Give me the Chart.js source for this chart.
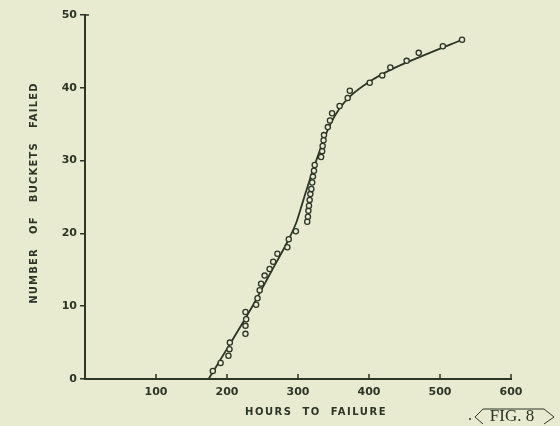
<!DOCTYPE html>
<html>
<head>
<meta charset="utf-8">
<script src="https://cdn.jsdelivr.net/npm/chart.js@4/dist/chart.umd.min.js"></script>
<style>
  html, body { margin: 0; padding: 0; background: #e8ebd0; }
  #wrap { width: 560px; height: 426px; }
</style>
</head>
<body>
<div id="wrap"><canvas id="failChart" width="560" height="426"></canvas></div>
<script>
// observed failures (hours, cumulative count)
const hours = [180, 191, 202, 203.5, 204, 226, 226, 227, 226, 241, 243, 246, 248, 253, 260, 265, 271, 285, 287, 297,
  313, 314, 314.6, 315.5, 316.4, 317.4, 318.8, 320, 321, 322.5, 323.5, 332.5, 334, 334.7, 336, 336.6,
  342, 345, 348, 358.6, 370, 373, 401, 418.7, 430, 453, 470, 504, 531];
const failed = [1.1, 2.2, 3.2, 4.1, 5.0, 6.2, 7.3, 8.2, 9.2, 10.2, 11.1, 12.2, 13.1, 14.2, 15.1, 16.1, 17.2, 18.1, 19.2, 20.3,
  21.6, 22.3, 23.1, 23.8, 24.6, 25.4, 26.1, 27.0, 27.8, 28.6, 29.4, 30.5, 31.3, 32.0, 32.8, 33.5,
  34.6, 35.5, 36.5, 37.5, 38.6, 39.6, 40.7, 41.7, 42.8, 43.7, 44.8, 45.7, 46.6];

// hand drawn fitted curve
const fitHours = [174, 206, 237, 262, 288, 298, 307, 319, 335, 345, 358, 373, 400, 433, 483, 531];
const fitFailed = [0, 5.1, 10.2, 14.7, 19.4, 21.6, 24.4, 28.1, 32.5, 34.9, 37.1, 38.8, 40.8, 42.6, 44.7, 46.6];

const xTicks = [0, 100, 200, 300, 400, 500, 600];
const yTicks = [0, 10, 20, 30, 40, 50];

const ink = '#2c3527';
const paper = '#e8ebd0';

const toPts = (xs, ys) => xs.map((x, i) => ({ x: x, y: ys[i] }));

// extra drawing: inward x ticks, axis titles, figure tag
const decor = {
  id: 'decor',
  afterDraw(chart) {
    const ctx = chart.ctx;
    const xs = chart.scales.x, ys = chart.scales.y;
    ctx.save();
    ctx.strokeStyle = ink;
    ctx.fillStyle = ink;
    ctx.lineWidth = 1.5;
    xTicks.slice(1).forEach(v => {
      const px = xs.getPixelForValue(v);
      ctx.beginPath();
      ctx.moveTo(px, ys.bottom);
      ctx.lineTo(px, ys.bottom - 5);
      ctx.stroke();
    });
    // small cap at top of y axis
    ctx.beginPath();
    ctx.moveTo(xs.left, ys.top);
    ctx.lineTo(xs.left + 4, ys.top);
    ctx.stroke();

    ctx.font = 'bold 10px "DejaVu Sans"';
    ctx.letterSpacing = '1.5px';
    ctx.textAlign = 'center';
    ctx.textBaseline = 'middle';
    ctx.fillText('HOURS  TO  FAILURE', 316, 412);

    ctx.letterSpacing = '1.2px';
    ctx.translate(34, 193);
    ctx.rotate(-Math.PI / 2);
    ctx.fillText('NUMBER   OF   BUCKETS   FAILED', 0, 0);
    ctx.setTransform(1, 0, 0, 1, 0, 0);

    ctx.letterSpacing = '0px';
    ctx.font = '17px "Liberation Serif"';
    ctx.fillText('FIG. 8', 512, 417);
    ctx.lineWidth = 1;
    ctx.beginPath();
    ctx.moveTo(483, 409); ctx.lineTo(475, 417); ctx.lineTo(483, 424);
    ctx.moveTo(483, 409); ctx.lineTo(544, 409); ctx.lineTo(554, 417); ctx.lineTo(544, 424);
    ctx.stroke();
    ctx.beginPath();
    ctx.arc(470, 419, 1, 0, Math.PI * 2);
    ctx.fill();
    ctx.restore();
  }
};

new Chart(document.getElementById('failChart').getContext('2d'), {
  type: 'scatter',
  data: {
    datasets: [{
      label: 'fit',
      data: toPts(fitHours, fitFailed),
      showLine: true,
      borderColor: ink,
      borderWidth: 1.8,
      pointRadius: 0,
      cubicInterpolationMode: 'monotone',
      order: 2
    }, {
      label: 'failures',
      data: toPts(hours, failed),
      showLine: false,
      pointStyle: 'circle',
      pointRadius: 2.6,
      pointBorderWidth: 1.3,
      pointBorderColor: ink,
      pointBackgroundColor: paper,
      order: 1
    }]
  },
  options: {
    responsive: false,
    animation: false,
    clip: false,
    layout: { padding: { top: 15, right: 49, left: 0, bottom: 0 } },
    plugins: { legend: { display: false }, tooltip: { enabled: false } },
    scales: {
      x: {
        type: 'linear',
        min: 0, max: 600,
        afterFit: s => { s.height = 47; },
        afterBuildTicks: s => { s.ticks = xTicks.map(v => ({ value: v })); },
        ticks: {
          color: ink,
          padding: 7,
          font: { family: 'DejaVu Sans', size: 11, weight: 'bold' },
          callback: v => v === 0 ? '' : v
        },
        grid: { display: false, drawTicks: false },
        border: { display: true, color: ink, width: 2 }
      },
      y: {
        min: 0, max: 50,
        afterFit: s => { s.width = 85; },
        afterBuildTicks: s => { s.ticks = yTicks.map(v => ({ value: v })); },
        ticks: {
          color: ink,
          padding: 3,
          font: { family: 'DejaVu Sans', size: 11, weight: 'bold' }
        },
        grid: { drawOnChartArea: false, color: ink, lineWidth: 1.5, tickLength: 5 },
        border: { display: true, color: ink, width: 2 }
      }
    }
  },
  plugins: [decor]
});
</script>
</body>
</html>
